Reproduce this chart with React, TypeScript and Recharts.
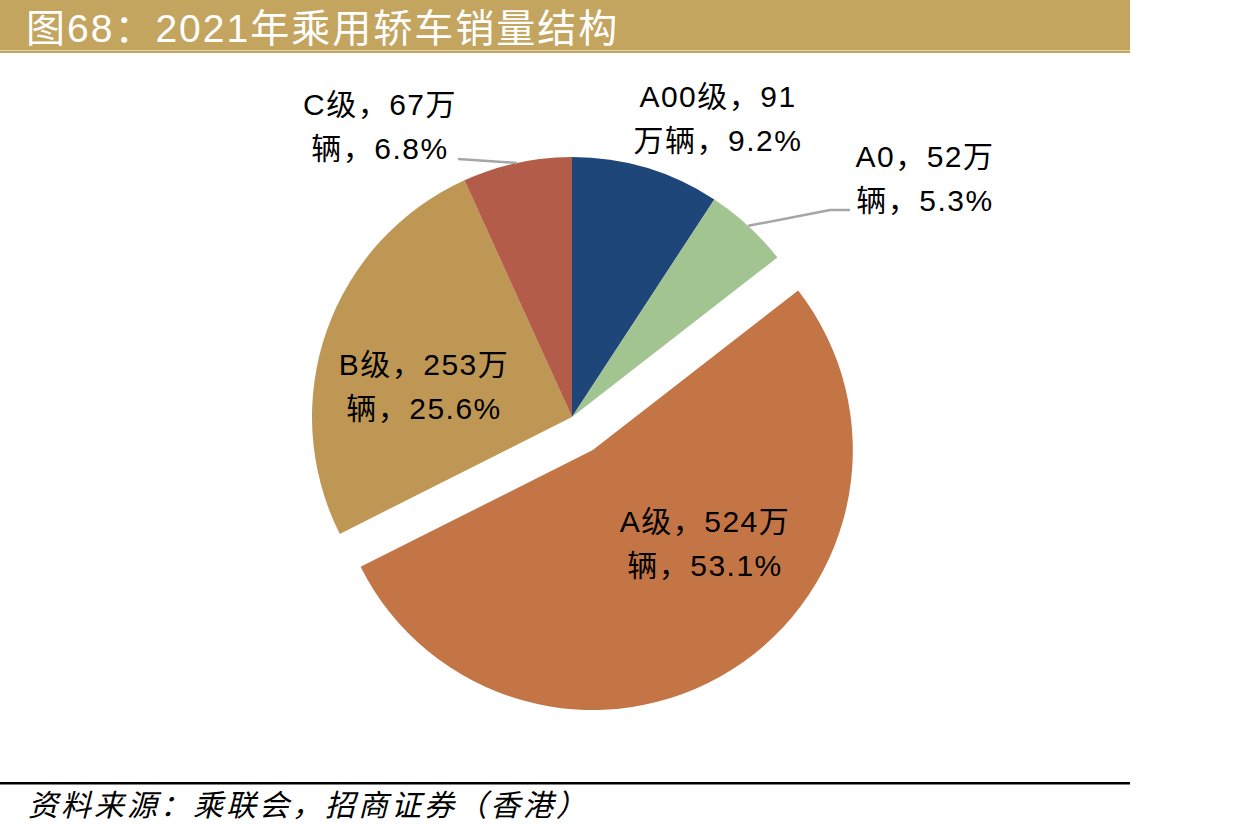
import React from 'react';
import { PieChart, Pie, Cell } from 'recharts';

// 2021 passenger sedan sales by class (万辆)
const categories = ['A00级', 'A0', 'A级', 'B级', 'C级'];
const sales = [91, 52, 524, 253, 67];
const sliceColors = ['#1F4679', '#A1C491', '#C37546', '#BE9755', '#B35C4A'];
const explodedIndex = 2;

const total = sales.reduce((s, v) => s + v, 0);
const data = categories.map((name, i) => ({ name, value: sales[i] }));

const W = 1239;
const H = 837;
const CX = 572;
const CY = 417;
const R = 260;
const EXPLODE = 39;

// shift the A slice out along its own mid angle
const before = sales.slice(0, explodedIndex).reduce((s, v) => s + v, 0);
const midFrac = (before + sales[explodedIndex] / 2) / total;
const explodeDx = EXPLODE * Math.sin(midFrac * 2 * Math.PI);
const explodeDy = -EXPLODE * Math.cos(midFrac * 2 * Math.PI);

// label anchors (centre x, first baseline) relative to the pie centre
const labelSpots = [
  { dx: 146, dy: -310 },
  { dx: 353, dy: -250 },
  { dx: 133, dy: 115 },
  { dx: -148, dy: -42 },
  { dx: -192, dy: -302 },
];
// leader line bends, relative to the label anchor
const leaders: Record<number, number[][]> = {
  1: [[-95, 43], [-75, 43]],
  4: [[78, 44]],
};

const font = '"Liberation Sans", Arial, "Noto Sans CJK SC", sans-serif';
const RAD = Math.PI / 180;

const labelLines = (i: number) => {
  const pct = ((sales[i] / total) * 100).toFixed(1) + '%';
  if (i === 0) return [`${categories[i]}，${sales[i]}`, `万辆，${pct}`];
  return [`${categories[i]}，${sales[i]}万`, `辆，${pct}`];
};

const renderLabel = (props: any) => {
  const { cx, cy, midAngle, outerRadius, index } = props;
  const spot = labelSpots[index];
  const x = cx + spot.dx;
  const y = cy + spot.dy;
  const lines = labelLines(index);
  const bends = leaders[index];
  let leader = null;
  if (bends) {
    const sx = cx + outerRadius * Math.cos(-midAngle * RAD);
    const sy = cy + outerRadius * Math.sin(-midAngle * RAD);
    const pts = [[sx, sy], ...bends.map(([bx, by]) => [x + bx, y + by])];
    leader = (
      <polyline
        points={pts.map((p) => p.join(',')).join(' ')}
        fill="none"
        stroke="#A6A6A6"
        strokeWidth={2.5}
      />
    );
  }
  return (
    <g key={`label-${index}`}>
      {leader}
      {lines.map((t, k) => (
        <text
          key={k}
          x={x}
          y={y + k * 44}
          textAnchor="middle"
          fontFamily={font}
          fontSize={30}
          letterSpacing={1.5}
          fill="#000"
        >
          {t}
        </text>
      ))}
    </g>
  );
};

export default function App() {
  return (
    <div style={{ position: 'absolute', left: 0, top: 0, width: W, height: H, background: '#fff' }}>
      <svg width={W} height={H} style={{ position: 'absolute', left: 0, top: 0 }}>
        <rect x={0} y={0} width={1130} height={53} fill="#C4A560" />
        <rect x={0} y={50} width={1130} height={1} fill="#E3D3A4" />
        <text
          x={26}
          y={42}
          fontFamily={font}
          fontSize={39}
          letterSpacing={2}
          fill="#fff"
        >
          图68：2021年乘用轿车销量结构
        </text>
        <rect x={0} y={782} width={1130} height={2.5} fill="#000" />
        <text
          x={28}
          y={816}
          fontFamily='"Noto Sans CJK SC", sans-serif'
          fontStyle="italic"
          fontSize={30}
          letterSpacing={3}
          fill="#000"
        >
          资料来源：乘联会，招商证券（香港）
        </text>
      </svg>
      <div style={{ position: 'absolute', left: 0, top: 0 }}>
        <PieChart width={W} height={H} margin={{ top: 0, right: 0, bottom: 0, left: 0 }}>
          <Pie
            data={data}
            dataKey="value"
            nameKey="name"
            cx={CX + explodeDx}
            cy={CY + explodeDy}
            outerRadius={R}
            startAngle={90}
            endAngle={-270}
            stroke="none"
            label={false}
            labelLine={false}
            isAnimationActive={false}
          >
            {data.map((d, i) => (
              <Cell key={d.name} fill={i === explodedIndex ? sliceColors[i] : 'none'} />
            ))}
          </Pie>
          <Pie
            data={data}
            dataKey="value"
            nameKey="name"
            cx={CX}
            cy={CY}
            outerRadius={R}
            startAngle={90}
            endAngle={-270}
            stroke="none"
            label={renderLabel}
            labelLine={false}
            isAnimationActive={false}
          >
            {data.map((d, i) => (
              <Cell key={d.name} fill={i === explodedIndex ? 'none' : sliceColors[i]} />
            ))}
          </Pie>
        </PieChart>
      </div>
    </div>
  );
}
